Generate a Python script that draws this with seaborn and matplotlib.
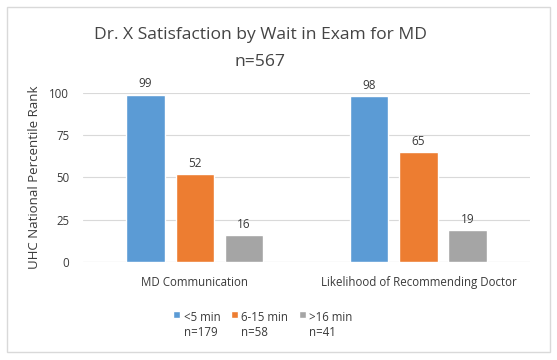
import pandas as pd
import numpy as np
import matplotlib
matplotlib.use('Agg')
import matplotlib.pyplot as plt
import seaborn as sns
from matplotlib.patches import Rectangle

sns.set_theme(style='white')
plt.rcParams['font.family'] = ['Open Sans', 'DejaVu Sans']

# Chart data
categories = ['MD Communication', 'Likelihood of Recommending Doctor']
wait_groups = ['<5 min\nn=179', '6-15 min\nn=58', '>16 min\nn=41']
values_lt5 = [99, 98]
values_6_15 = [52, 65]
values_gt16 = [16, 19]
yticks = [0, 25, 50, 75, 100]
colors = ['#5B9BD5', '#ED7D31', '#A5A5A5']

df = pd.DataFrame({
    'Measure': categories * 3,
    'Wait': np.repeat(wait_groups, len(categories)),
    'Rank': values_lt5 + values_6_15 + values_gt16,
})

fig = plt.figure(figsize=(5.57, 3.6), dpi=100)
ax = fig.add_axes([0.149, 0.272, 0.803, 0.47])

# outer chart frame
fig.patches.append(Rectangle((0.012, 0.022), 0.976, 0.958, transform=fig.transFigure,
                             fill=False, edgecolor='#D9D9D9', linewidth=1))

sns.barplot(data=df, x='Measure', y='Rank', hue='Wait', order=categories,
            hue_order=wait_groups, palette=colors, width=0.66, gap=0.22,
            saturation=1, ax=ax, zorder=3)

for cont in ax.containers:
    ax.bar_label(cont, padding=3, fontsize=8.5, color='#3a3a3a')

ax.set_ylim(0, 100)
ax.set_yticks(yticks)
ax.yaxis.grid(True, color='#D9D9D9', linewidth=0.8, zorder=0)
ax.set_axisbelow(True)
for s in ax.spines.values():
    s.set_visible(False)
ax.axhline(0, color='#D9D9D9', linewidth=0.8, zorder=1)
ax.tick_params(axis='both', length=0, labelsize=8.3, labelcolor='#3a3a3a')
ax.tick_params(axis='x', pad=10)
ax.tick_params(axis='y', pad=10)
ax.set_xlabel('')
ax.set_ylabel('UHC National Percentile Rank', fontsize=9.5, color='#3a3a3a', labelpad=6)

fig.text(0.467, 0.903, 'Dr. X Satisfaction by Wait in Exam for MD', ha='center', va='center',
         fontsize=12.6, color='#444444')
fig.text(0.467, 0.828, 'n=567', ha='center', va='center', fontsize=12.6, color='#444444')

leg = ax.legend(loc='center', bbox_to_anchor=(0.472, 0.098), bbox_transform=fig.transFigure,
                ncol=3, frameon=False, fontsize=8.3, handlelength=0.6, handleheight=0.6,
                handletextpad=0.3, columnspacing=0.9, labelcolor='#3a3a3a')
# put the colour square next to the first line of each label
for col in leg._legend_handle_box.get_children():
    for entry in col.get_children():
        entry.align = 'top'

fig.savefig('out.png', dpi=100, facecolor='white')
